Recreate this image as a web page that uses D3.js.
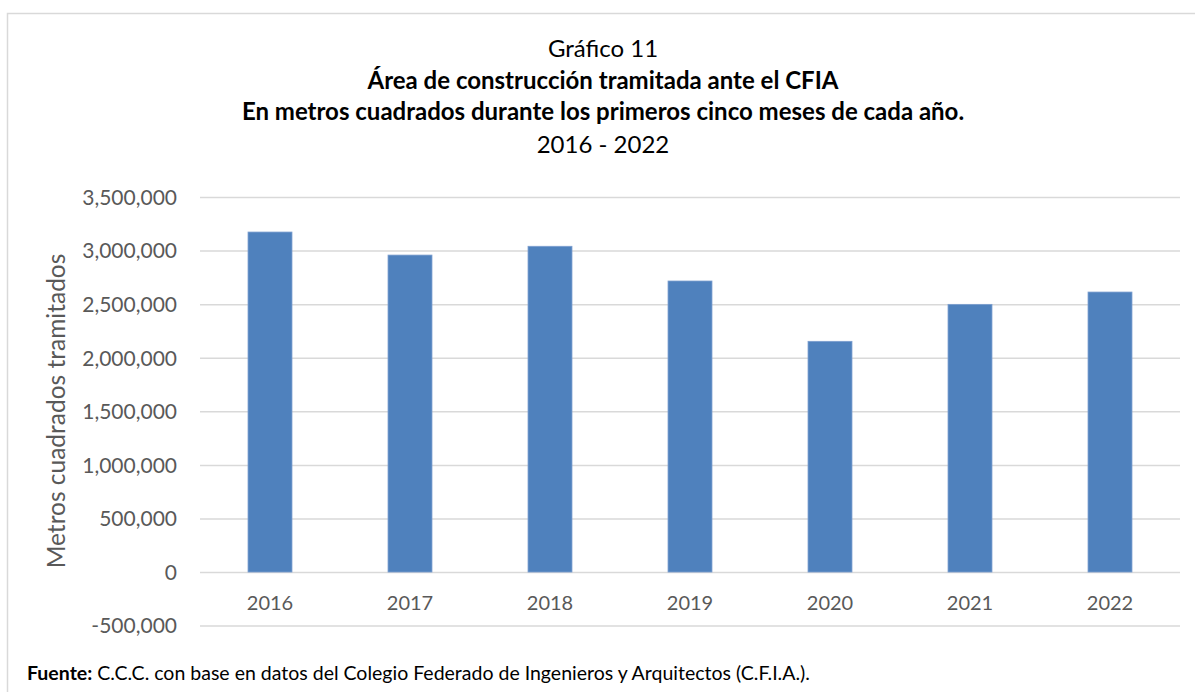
<!DOCTYPE html>
<html>
<head>
<meta charset="utf-8">
<script src="https://cdn.jsdelivr.net/npm/d3@7"></script>
<style>
  body { margin: 0; background: #fff; }
  svg { display: block; font-family: Lato, "Open Sans", sans-serif; }
</style>
</head>
<body>
<div id="chart"></div>
<script>
// data
const years = ["2016", "2017", "2018", "2019", "2020", "2021", "2022"];
const areas = [3173000, 2958000, 3040000, 2716000, 2153000, 2498000, 2613000];
const yTicks = [-500000, 0, 500000, 1000000, 1500000, 2000000, 2500000, 3000000, 3500000];
const titleLines = [
    "Gráfico 11",
    "Área de construcción tramitada ante el CFIA",
    "En metros cuadrados durante los primeros cinco meses de cada año.",
    "2016 - 2022"
];

const width = 1195, height = 692;
const plot = { left: 200, right: 1180, top: 197, bottom: 625.6 };
const font = "Lato, 'Open Sans', sans-serif";

const svg = d3.select("#chart")
    .append("svg")
    .attr("width", width)
    .attr("height", height);

// outer frame
svg.append("rect")
    .attr("x", 7.5)
    .attr("y", 13.5)
    .attr("width", 1200)
    .attr("height", 700)
    .attr("fill", "none")
    .attr("stroke", "#d9d9d9")
    .attr("stroke-width", 1.5);

const xScale = d3.scaleBand()
    .domain(years)
    .range([plot.left, plot.right])
    .paddingInner(0.686)
    .paddingOuter(0.343);

const yScale = d3.scaleLinear()
    .domain([d3.min(yTicks), d3.max(yTicks)])
    .range([plot.bottom, plot.top]);

const fmt = d => d3.format(",")(d).replace("\u2212", "-");

// gridlines + y labels
const yAxis = d3.axisLeft(yScale)
    .tickValues(yTicks)
    .tickSize(-(plot.right - plot.left))
    .tickPadding(23)
    .tickFormat(fmt);

const gy = svg.append("g")
    .attr("transform", `translate(${plot.left},0)`)
    .call(yAxis)
    .attr("font-family", font)
    .attr("font-size", 21);
gy.select(".domain").remove();
gy.selectAll(".tick line")
    .attr("stroke", "#d9d9d9")
    .attr("stroke-width", 1.5);
gy.selectAll(".tick text")
    .attr("fill", "#595959")
    .attr("dy", "0.35em");

// bars
svg.append("g")
    .selectAll("rect")
    .data(areas)
    .join("rect")
    .attr("x", (d, i) => xScale(years[i]))
    .attr("y", d => yScale(d))
    .attr("width", xScale.bandwidth())
    .attr("height", d => yScale(0) - yScale(d))
    .attr("fill", "#4f81bd")
    .attr("stroke", "#7d9fcf")
    .attr("stroke-width", 0.8);

// x labels
const xAxis = d3.axisBottom(xScale).tickSize(0).tickPadding(0);
const gx = svg.append("g")
    .attr("transform", `translate(0,${yScale(0)})`)
    .call(xAxis)
    .attr("font-family", font)
    .attr("font-size", 20);
gx.select(".domain").remove();
gx.selectAll(".tick text")
    .attr("fill", "#595959")
    .attr("y", 38)
    .attr("dy", null);

// y axis title
svg.append("text")
    .attr("transform", "rotate(-90)")
    .attr("x", -411)
    .attr("y", 65)
    .attr("text-anchor", "middle")
    .attr("fill", "#595959")
    .attr("font-size", 24.5)
    .text("Metros cuadrados tramitados");

// titles
const titleY = [57, 89, 120, 153];
svg.append("g")
    .selectAll("text")
    .data(titleLines)
    .join("text")
    .attr("x", 603)
    .attr("y", (d, i) => titleY[i])
    .attr("text-anchor", "middle")
    .attr("fill", "#000")
    .attr("font-size", 24)
    .attr("font-weight", (d, i) => (i === 1 || i === 2) ? "bold" : "normal")
    .text(d => d);

// source note
const note = svg.append("text")
    .attr("x", 27)
    .attr("y", 680)
    .attr("font-size", 19.5)
    .attr("fill", "#000");
note.append("tspan").attr("font-weight", "bold").text("Fuente:");
note.append("tspan").text(" C.C.C. con base en datos del Colegio Federado de Ingenieros y Arquitectos (C.F.I.A.).");
</script>
</body>
</html>
